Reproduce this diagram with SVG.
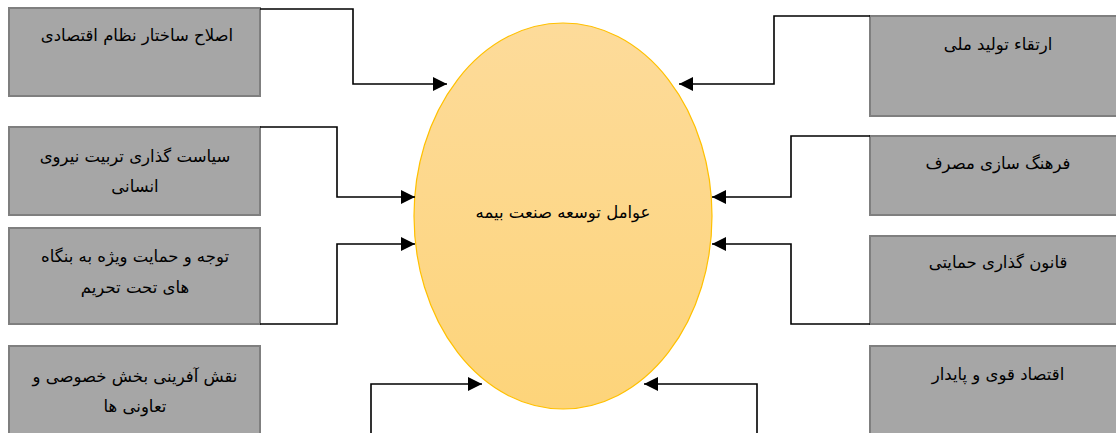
<svg xmlns="http://www.w3.org/2000/svg" width="1116" height="433" viewBox="0 0 1116 433">
<style>
.box{fill:#a6a6a6;stroke:#7f7f7f;stroke-width:2}
.t{font-family:"DejaVu Sans",sans-serif;font-size:16.5px;fill:#000;text-anchor:middle;direction:rtl}
.c{fill:none;stroke:#000;stroke-width:1.6}
</style>
<defs>
<linearGradient id="g" x1="0" y1="0" x2="0" y2="1">
<stop offset="0" stop-color="#fddb9a"/>
<stop offset="1" stop-color="#fdd47a"/>
</linearGradient>
<marker id="a" viewBox="0 0 14 14" refX="14" refY="7" markerWidth="14" markerHeight="14" markerUnits="userSpaceOnUse" orient="auto">
<path d="M0,0 L14,7 L0,14 Z" fill="#000"/>
</marker>
</defs>
<g id="center">
<ellipse cx="563" cy="216" rx="149" ry="193" fill="url(#g)" stroke="#ffc000" stroke-width="1.2"/>
<text class="t" x="563" y="218">عوامل توسعه صنعت بیمه</text>
</g>
<g id="l1"><rect class="box" x="9" y="8" width="251" height="88"/><text class="t" x="137" y="41">اصلاح ساختار نظام اقتصادی</text></g>
<g id="l2"><rect class="box" x="9" y="127" width="251" height="88"/><text class="t" x="135" y="162">سیاست گذاری تربیت نیروی</text><text class="t" x="135" y="192">انسانی</text></g>
<g id="l3"><rect class="box" x="9" y="228" width="251" height="96"/><text class="t" x="135" y="262">توجه و حمایت ویژه به بنگاه</text><text class="t" x="135" y="293">های تحت تحریم</text></g>
<g id="l4"><rect class="box" x="9" y="346" width="251" height="100"/><text class="t" x="135" y="382">نقش آفرینی بخش خصوصی و</text><text class="t" x="135" y="412">تعاونی ها</text></g>
<g id="r1"><rect class="box" x="870" y="16" width="260" height="100"/><text class="t" x="998" y="50">ارتقاء تولید ملی</text></g>
<g id="r2"><rect class="box" x="870" y="136" width="260" height="79"/><text class="t" x="998" y="169">فرهنگ سازی  مصرف</text></g>
<g id="r3"><rect class="box" x="870" y="236" width="260" height="88"/><text class="t" x="998" y="268">قانون گذاری حمایتی</text></g>
<g id="r4"><rect class="box" x="870" y="346" width="260" height="100"/><text class="t" x="998" y="380">اقتصاد قوی و پایدار</text></g>
<g id="connectors">
<path class="c" d="M260,9 H353 V84 H447" marker-end="url(#a)"/>
<path class="c" d="M260,127 H337 V197 H415" marker-end="url(#a)"/>
<path class="c" d="M260,324 H337 V244 H415" marker-end="url(#a)"/>
<path class="c" d="M371,433 V384 H482" marker-end="url(#a)"/>
<path class="c" d="M870,16 H774 V84 H679" marker-end="url(#a)"/>
<path class="c" d="M870,136 H791 V197 H712" marker-end="url(#a)"/>
<path class="c" d="M870,324 H791 V244 H712" marker-end="url(#a)"/>
<path class="c" d="M757,433 V384 H644" marker-end="url(#a)"/>
</g>
</svg>
